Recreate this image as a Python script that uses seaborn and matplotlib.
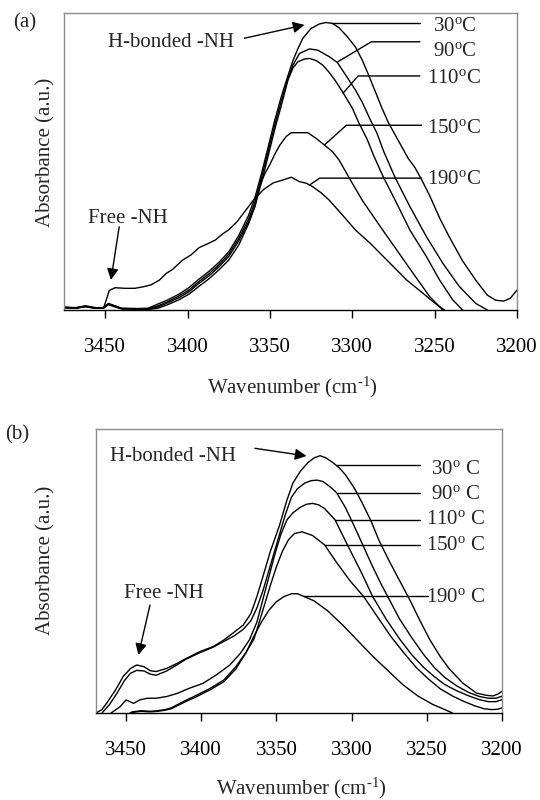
import matplotlib
matplotlib.use("Agg")
import matplotlib.pyplot as plt
import pandas as pd
import seaborn as sns

# ---------------- data: FTIR N-H stretching region ----------------
TEMPS = ["30", "90", "110", "150", "190"]
X_TICKS = [3450, 3400, 3350, 3300, 3250, 3200]

# sample (a)
A30_WN = [3475, 3468, 3462, 3456, 3451, 3448, 3445, 3440, 3430, 3424, 3418, 3412, 3405, 3399, 3393,
          3387, 3381, 3375, 3369, 3363, 3359, 3355, 3351, 3347, 3343, 3339, 3336, 3333, 3330, 3325,
          3320, 3316, 3312, 3308, 3303, 3298, 3294, 3290, 3286, 3282, 3278, 3274, 3270, 3266, 3262,
          3258, 3253, 3247, 3241, 3233, 3225, 3218, 3213, 3208, 3204, 3200]
A30_ABS = [0.010, 0.008, 0.014, 0.008, 0.008, 0.022, 0.016, 0.006, 0.005, 0.006, 0.020, 0.034, 0.054, 0.076, 0.104,
           0.130, 0.160, 0.196, 0.250, 0.318, 0.380, 0.462, 0.550, 0.640, 0.720, 0.790, 0.840, 0.880, 0.915, 0.948,
           0.963, 0.968, 0.965, 0.950, 0.920, 0.885, 0.842, 0.790, 0.735, 0.680, 0.630, 0.590, 0.550, 0.510, 0.480,
           0.440, 0.385, 0.310, 0.245, 0.165, 0.100, 0.050, 0.033, 0.030, 0.040, 0.067]

A90_WN = [3475, 3468, 3462, 3456, 3451, 3448, 3445, 3440, 3430, 3424, 3418, 3412, 3405, 3399, 3393,
          3387, 3381, 3375, 3369, 3363, 3359, 3355, 3351, 3347, 3343, 3339, 3336, 3332, 3326, 3321,
          3314, 3309, 3304, 3298, 3294, 3289, 3285, 3281, 3274, 3265, 3255, 3245, 3235, 3225, 3218, 3214]
A90_ABS = [0.008, 0.006, 0.012, 0.006, 0.007, 0.020, 0.014, 0.004, 0.003, 0.004, 0.014, 0.028, 0.048, 0.068, 0.096,
           0.122, 0.152, 0.188, 0.240, 0.305, 0.365, 0.448, 0.535, 0.625, 0.705, 0.780, 0.825, 0.864, 0.879, 0.875,
           0.853, 0.833, 0.791, 0.740, 0.700, 0.640, 0.595, 0.535, 0.446, 0.348, 0.247, 0.157, 0.079, 0.022, 0.0, -0.02]

A110_WN = [3475, 3468, 3462, 3456, 3451, 3448, 3445, 3440, 3430, 3424, 3418, 3412, 3405, 3399, 3393,
           3387, 3381, 3375, 3369, 3363, 3359, 3355, 3351, 3347, 3343, 3339, 3336, 3333, 3329, 3326,
           3322, 3318, 3314, 3310, 3305, 3300, 3296, 3291, 3287, 3281, 3273, 3265, 3255, 3247, 3239, 3233, 3230]
A110_ABS = [0.009, 0.007, 0.013, 0.007, 0.008, 0.021, 0.015, 0.005, 0.004, 0.003, 0.010, 0.024, 0.042, 0.062, 0.090,
            0.115, 0.145, 0.180, 0.232, 0.295, 0.352, 0.432, 0.520, 0.610, 0.690, 0.775, 0.815, 0.836, 0.845, 0.847,
            0.840, 0.825, 0.800, 0.770, 0.726, 0.680, 0.630, 0.575, 0.520, 0.446, 0.359, 0.269, 0.180, 0.101, 0.034, 0.0, -0.02]

A150_WN = [3475, 3468, 3462, 3456, 3451, 3448, 3445, 3440, 3430, 3424, 3418, 3412, 3405, 3399, 3393,
           3387, 3381, 3375, 3369, 3363, 3359, 3356, 3353, 3350, 3347, 3344, 3340, 3337, 3332, 3327,
           3322, 3317, 3312, 3308, 3302, 3294, 3283, 3273, 3263, 3253, 3245, 3242]
A150_ABS = [0.008, 0.006, 0.011, 0.006, 0.006, 0.018, 0.012, 0.004, 0.003, 0.002, 0.006, 0.018, 0.035, 0.054, 0.080,
            0.105, 0.135, 0.168, 0.218, 0.290, 0.350, 0.420, 0.460, 0.490, 0.525, 0.555, 0.585, 0.597, 0.597, 0.597,
            0.578, 0.556, 0.533, 0.505, 0.446, 0.370, 0.281, 0.202, 0.123, 0.045, 0.0, -0.02]

A190_WN = [3475, 3468, 3462, 3456, 3451, 3449, 3447.5, 3444, 3438, 3432, 3427, 3422, 3417, 3413, 3409,
           3403, 3398, 3393, 3387, 3383, 3379, 3375, 3370, 3366, 3360, 3354, 3348, 3342, 3337, 3332,
           3328, 3324, 3319, 3314, 3306, 3298, 3289, 3277, 3267, 3257, 3251, 3247, 3244, 3241]
A190_ABS = [0.008, 0.006, 0.012, 0.006, 0.006, 0.040, 0.066, 0.075, 0.073, 0.073, 0.078, 0.085, 0.101, 0.123, 0.137,
            0.168, 0.185, 0.210, 0.225, 0.236, 0.255, 0.270, 0.297, 0.326, 0.370, 0.405, 0.428, 0.438, 0.447, 0.432,
            0.427, 0.415, 0.395, 0.370, 0.320, 0.269, 0.224, 0.157, 0.101, 0.056, 0.028, 0.011, 0.0, -0.02]

# sample (b)
B30_WN = [3470, 3466, 3463, 3457, 3452, 3447, 3443, 3438, 3434, 3430, 3423, 3416, 3410, 3401, 3392,
          3385, 3379, 3372, 3367, 3363, 3359, 3354, 3348, 3343, 3339, 3334, 3329, 3325, 3321, 3317,
          3312, 3308, 3304, 3298, 3293, 3287, 3282, 3275, 3268, 3261, 3255, 3248, 3241, 3235, 3226,
          3217, 3210, 3206, 3203, 3200]
B30_ABS = [0.0, 0.012, 0.034, 0.081, 0.128, 0.157, 0.169, 0.163, 0.149, 0.146, 0.157, 0.175, 0.192, 0.216, 0.234,
           0.257, 0.281, 0.310, 0.350, 0.410, 0.480, 0.570, 0.660, 0.750, 0.810, 0.852, 0.882, 0.898, 0.906, 0.898,
           0.880, 0.862, 0.838, 0.790, 0.740, 0.675, 0.610, 0.535, 0.465, 0.395, 0.330, 0.258, 0.198, 0.155, 0.105,
           0.070, 0.062, 0.060, 0.066, 0.076]

B90_WN = [3466, 3461, 3456, 3451, 3447, 3443, 3438, 3434, 3430, 3423, 3416, 3410, 3401, 3392, 3385,
          3378, 3372, 3367, 3363, 3359, 3354, 3349, 3344, 3340, 3336, 3331, 3327, 3323, 3319, 3314,
          3310, 3304, 3298, 3292, 3286, 3280, 3274, 3268, 3260, 3252, 3245, 3238, 3230, 3222, 3215,
          3209, 3204, 3200]
B90_ABS = [0.0, 0.030, 0.070, 0.115, 0.140, 0.150, 0.148, 0.137, 0.133, 0.148, 0.170, 0.190, 0.212, 0.232, 0.252,
           0.272, 0.295, 0.325, 0.370, 0.430, 0.520, 0.610, 0.700, 0.760, 0.790, 0.810, 0.818, 0.820, 0.815, 0.795,
           0.776, 0.722, 0.655, 0.585, 0.515, 0.450, 0.390, 0.330, 0.265, 0.205, 0.160, 0.125, 0.095, 0.072, 0.058,
           0.052, 0.052, 0.059]

B110_WN = [3460, 3454, 3450, 3445, 3441, 3436, 3430, 3423, 3416, 3408, 3399, 3390, 3381, 3374, 3368,
           3363, 3359, 3355, 3351, 3347, 3343, 3339, 3334, 3330, 3326, 3322, 3318, 3311, 3303, 3294,
           3286, 3277, 3268, 3260, 3252, 3245, 3238, 3230, 3222, 3215, 3209, 3204, 3200]
B110_ABS = [0.0, 0.022, 0.046, 0.034, 0.046, 0.052, 0.052, 0.058, 0.069, 0.087, 0.104, 0.134, 0.169, 0.210, 0.257,
            0.320, 0.400, 0.480, 0.560, 0.630, 0.680, 0.705, 0.725, 0.735, 0.738, 0.733, 0.720, 0.680, 0.594, 0.500,
            0.410, 0.330, 0.260, 0.205, 0.160, 0.128, 0.100, 0.078, 0.060, 0.047, 0.040, 0.040, 0.047]

B150_WN = [3450, 3446, 3440, 3434, 3429, 3424, 3420, 3412, 3403, 3394, 3385, 3377, 3370, 3365, 3362,
           3358, 3354, 3350, 3346, 3342, 3338, 3333, 3326, 3318, 3310, 3301, 3292, 3283, 3274, 3265,
           3257, 3249, 3241, 3233, 3225, 3218, 3212, 3207, 3203, 3200]
B150_ABS = [-0.010, 0.004, 0.008, 0.006, 0.008, 0.012, 0.018, 0.040, 0.063, 0.087, 0.116, 0.163, 0.215, 0.260, 0.310,
            0.380, 0.450, 0.515, 0.570, 0.610, 0.632, 0.638, 0.625, 0.592, 0.530, 0.465, 0.410, 0.340, 0.270, 0.210,
            0.160, 0.120, 0.085, 0.060, 0.040, 0.025, 0.015, 0.012, 0.013, 0.018]

B190_WN = [3450, 3446, 3440, 3434, 3429, 3424, 3420, 3412, 3403, 3394, 3385, 3377, 3370, 3365, 3360,
           3355, 3350, 3345, 3340, 3336, 3332, 3325, 3316, 3306, 3296, 3286, 3276, 3266, 3256, 3246,
           3238, 3233, 3229]
B190_ABS = [-0.010, 0.002, 0.006, 0.004, 0.006, 0.010, 0.015, 0.036, 0.058, 0.082, 0.110, 0.155, 0.215, 0.270, 0.320,
            0.362, 0.392, 0.410, 0.420, 0.420, 0.411, 0.395, 0.360, 0.310, 0.255, 0.200, 0.150, 0.100, 0.060, 0.030,
            0.012, 0.0, -0.015]

# ---------------- style ----------------
sns.set_theme(style="white")
plt.rcParams["font.family"] = ["Liberation Serif", "DejaVu Serif"]
plt.rcParams["mathtext.fontset"] = "custom"
plt.rcParams["mathtext.rm"] = "Liberation Serif"
plt.rcParams["mathtext.it"] = "Liberation Serif:italic"
plt.rcParams["mathtext.bf"] = "Liberation Serif:bold"

FS = 15
LW = 1.0
W, H = 540, 800
fig = plt.figure(figsize=(W / 100, H / 100), dpi=100)
fig.patch.set_facecolor("white")


def axes_px(left, top, right, bottom):
    return fig.add_axes([left / W, 1 - bottom / H, (right - left) / W, (bottom - top) / H])


def spectra_frame(curves):
    parts = [pd.DataFrame({"wavenumber": wn, "absorbance": ab, "temp": t})
             for t, (wn, ab) in zip(TEMPS, curves)]
    return pd.concat(parts, ignore_index=True)


def draw_panel(ax, curves, xlim, ylab_xy, xlab_xy):
    df = spectra_frame(curves)
    sns.lineplot(data=df, x="wavenumber", y="absorbance", units="temp", estimator=None,
                 sort=False, color="black", linewidth=LW, ax=ax, legend=False)
    ax.set_xlim(*xlim)
    ax.set_ylim(0, 1)
    ax.set_xticks(X_TICKS)
    ax.set_xticklabels([str(t) for t in X_TICKS])
    ax.set_yticks([])
    ax.tick_params(axis="x", bottom=True, direction="out", length=6, width=1,
                   pad=14, labelsize=FS, colors="black")
    for side in ("left", "top", "right"):
        ax.spines[side].set_color("#8c8c8c")
        ax.spines[side].set_linewidth(1.0)
    ax.spines["bottom"].set_color("black")
    ax.spines["bottom"].set_linewidth(1.0)
    ax.set_facecolor("white")
    ax.set_ylabel("Absorbance (a.u.)", fontsize=FS, va="center", ha="center")
    ax.yaxis.set_label_coords(*ylab_xy)
    ax.set_xlabel("Wavenumber (cm$^{\\text{-1}}$)", fontsize=FS, va="center", ha="center")
    ax.xaxis.set_label_coords(*xlab_xy)


def arrow(ax, tail, tip):
    ax.annotate("", xy=tip, xytext=tail,
                arrowprops=dict(arrowstyle="-|>", color="black", lw=1.0,
                                mutation_scale=17, shrinkA=0, shrinkB=0))


def leader(ax, xs, ys):
    ax.plot(xs, ys, color="black", lw=LW)


# ---------------- panel (a) ----------------
ax_a = axes_px(64, 13, 517, 310)
draw_panel(ax_a,
           [(A30_WN, A30_ABS), (A90_WN, A90_ABS), (A110_WN, A110_ABS),
            (A150_WN, A150_ABS), (A190_WN, A190_ABS)],
           (3475, 3200), (-0.041, 0.53), (0.505, -0.259))

ax_a.text(3448, 0.899, "H-bonded -NH", fontsize=FS, ha="left", va="center")
arrow(ax_a, (3365.5, 0.915), (3329, 0.960))
ax_a.text(3436, 0.309, "Free -NH", fontsize=FS, ha="center", va="center")
arrow(ax_a, (3441.5, 0.280), (3446.5, 0.101))

leader(ax_a, [3313, 3259], [0.966, 0.966])
leader(ax_a, [3308.7, 3288.4, 3259], [0.836, 0.903, 0.903])
leader(ax_a, [3305.6, 3296.5, 3259], [0.730, 0.788, 0.788])
leader(ax_a, [3316.8, 3303.6, 3258], [0.556, 0.622, 0.622])
leader(ax_a, [3325.9, 3319.8, 3258], [0.421, 0.444, 0.444])
for t, y in zip(TEMPS, [0.955, 0.871, 0.781, 0.612, 0.438]):
    ax_a.text(3238, y, f"{t}$^{{\\rm o}}$C", fontsize=FS, ha="center", va="center")

fig.text(25 / W, 1 - 23 / H, "(a)", fontsize=FS, ha="center", va="center")

# ---------------- panel (b) ----------------
ax_b = axes_px(96, 429, 502, 713)
draw_panel(ax_b,
           [(B30_WN, B30_ABS), (B90_WN, B90_ABS), (B110_WN, B110_ABS),
            (B150_WN, B150_ABS), (B190_WN, B190_ABS)],
           (3470, 3200), (-0.124, 0.536), (0.505, -0.264))

ax_b.text(3461, 0.903, "H-bonded -NH", fontsize=FS, ha="left", va="center")
arrow(ax_b, (3364.3, 0.932), (3330, 0.905))
ax_b.text(3425, 0.421, "Free -NH", fontsize=FS, ha="center", va="center")
arrow(ax_b, (3434.1, 0.380), (3441.8, 0.204))

leader(ax_b, [3310, 3254.5], [0.872, 0.872])
leader(ax_b, [3310, 3254.5], [0.776, 0.776])
leader(ax_b, [3311, 3254.5], [0.680, 0.680])
leader(ax_b, [3318, 3254.5], [0.593, 0.593])
leader(ax_b, [3332, 3249], [0.411, 0.411])
for t, y in zip(TEMPS, [0.857, 0.769, 0.681, 0.590, 0.405]):
    ax_b.text(3231, y, f"{t}$^{{\\rm o}}$ C", fontsize=FS, ha="center", va="center")

fig.text(17 / W, 1 - 435 / H, "(b)", fontsize=FS, ha="center", va="center")

fig.savefig("out.png", dpi=100, facecolor="white")
